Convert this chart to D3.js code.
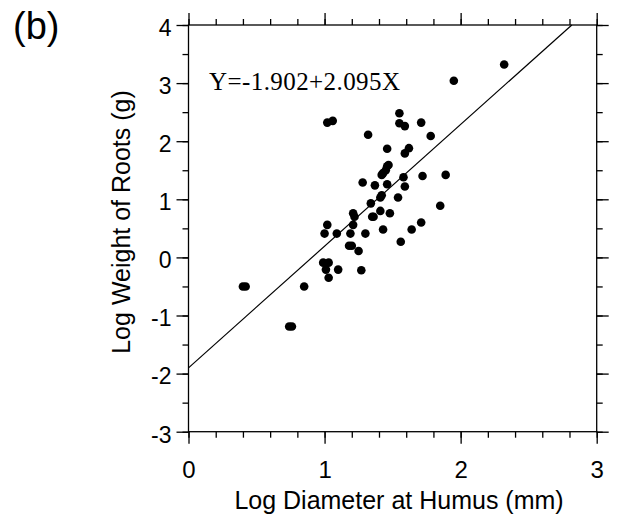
<!DOCTYPE html>
<head>
  <meta charset="utf-8">
  <title>Log weight of roots</title>
  <script src="https://cdn.jsdelivr.net/npm/d3@7"></script>
  <style>
    body { margin: 0; background: #fff; }
    text { font-family: "Liberation Sans", Arial, sans-serif; fill: #000; }
  </style>
</head>
<body>
<div id="container"></div>

<script>
// Points (log diamètre, log poids)
const logDiameter = [0.40, 0.42, 0.74, 0.76, 0.85, 1.02, 1.06, 1.02, 1.00, 1.09,
  0.99, 1.03, 1.01, 1.03, 1.10, 1.18, 1.20, 1.19, 1.21, 1.21, 1.22, 1.25, 1.27,
  1.30, 1.28, 1.32, 1.34, 1.35, 1.36, 1.37, 1.41, 1.41, 1.42, 1.42, 1.43, 1.45,
  1.46, 1.47, 1.46, 1.46, 1.43, 1.48, 1.54, 1.55, 1.55, 1.59, 1.59, 1.62, 1.58,
  1.59, 1.56, 1.64, 1.71, 1.71, 1.72, 1.78, 1.85, 1.89, 1.95, 2.32];
const logWeight = [-0.50, -0.50, -1.19, -1.19, -0.50, 2.32, 2.35, 0.56, 0.41, 0.41,
  -0.09, -0.09, -0.21, -0.35, -0.21, 0.20, 0.20, 0.41, 0.56, 0.76, 0.70, 0.11, -0.22,
  0.41, 1.29, 2.11, 0.93, 0.70, 0.70, 1.24, 0.80, 1.03, 1.07, 1.42, 1.45, 1.50,
  1.57, 1.59, 1.87, 1.26, 0.48, 0.76, 1.03, 2.48, 2.31, 2.26, 1.79, 1.88, 1.38,
  1.22, 0.27, 0.48, 0.60, 2.32, 1.40, 2.09, 0.89, 1.42, 3.04, 3.32];

// Droite de régression Y = a + bX
const intercept = -1.902;
const slope = 2.095;
const equationLabel = "Y=-1.902+2.095X";

const xMajorTicks = [0, 1, 2, 3];
const xMinorTicks = d3.range(0, 3.001, 0.2);
const yMajorTicks = [-3, -2, -1, 0, 1, 2, 3, 4];
const yMinorTicks = d3.range(-3, 4.001, 0.5);

const width = 624, height = 519;
const plotLeft = 188.5, plotRight = 596.7, plotTop = 25, plotBottom = 431.7;

const svg = d3.select("#container")
  .append("svg")
  .attr("width", width)
  .attr("height", height);

const x = d3.scaleLinear().domain([0, 3]).range([plotLeft, plotRight]);
const y = d3.scaleLinear().domain([-3, 4]).range([plotBottom, plotTop]);

// tiret simple comme sur la figure (pas le signe moins unicode)
const plainFormat = d => String(d);

// Cadre
svg.append("rect")
  .attr("x", plotLeft).attr("y", plotTop)
  .attr("width", plotRight - plotLeft).attr("height", plotBottom - plotTop)
  .attr("fill", "none").attr("stroke", "#000").attr("stroke-width", 1.3);

function styleAxis(g) {
  g.select(".domain").remove();
  g.selectAll("line").attr("stroke", "#000").attr("stroke-width", 1.3);
}

// Axes bas / haut
svg.append("g").attr("transform", `translate(0,${plotBottom})`)
  .call(d3.axisBottom(x).tickValues(xMinorTicks).tickSize(6).tickFormat(""))
  .call(styleAxis);
svg.append("g").attr("transform", `translate(0,${plotBottom})`)
  .call(d3.axisBottom(x).tickValues(xMajorTicks).tickSize(12).tickPadding(17).tickFormat(plainFormat))
  .call(styleAxis)
  .selectAll("text").style("font-size", "24px");
svg.append("g").attr("transform", `translate(0,${plotTop})`)
  .call(d3.axisTop(x).tickValues(xMinorTicks).tickSize(6).tickFormat(""))
  .call(styleAxis);
svg.append("g").attr("transform", `translate(0,${plotTop})`)
  .call(d3.axisTop(x).tickValues(xMajorTicks).tickSize(12).tickFormat(""))
  .call(styleAxis);

// Axes gauche / droite
svg.append("g").attr("transform", `translate(${plotLeft},0)`)
  .call(d3.axisLeft(y).tickValues(yMinorTicks).tickSize(6).tickFormat(""))
  .call(styleAxis);
svg.append("g").attr("transform", `translate(${plotLeft},0)`)
  .call(d3.axisLeft(y).tickValues(yMajorTicks).tickSize(12).tickPadding(5).tickFormat(plainFormat))
  .call(styleAxis)
  .selectAll("text").style("font-size", "23px").attr("dy", "0.45em");
svg.append("g").attr("transform", `translate(${plotRight},0)`)
  .call(d3.axisRight(y).tickValues(yMinorTicks).tickSize(6).tickFormat(""))
  .call(styleAxis);
svg.append("g").attr("transform", `translate(${plotRight},0)`)
  .call(d3.axisRight(y).tickValues(yMajorTicks).tickSize(12).tickFormat(""))
  .call(styleAxis);

// Les axes d3 imposent sans-serif : on rétablit la police
svg.selectAll("g").attr("font-family", null);

// Droite de régression, coupée au bord haut
const xEnd = Math.min(3, (4 - intercept) / slope);
svg.append("line")
  .attr("x1", x(0)).attr("y1", y(intercept))
  .attr("x2", x(xEnd)).attr("y2", y(intercept + slope * xEnd))
  .attr("stroke", "#000").attr("stroke-width", 1.2);

// Points
svg.selectAll(".pt")
  .data(d3.zip(logDiameter, logWeight))
  .enter().append("circle")
  .attr("class", "pt")
  .attr("cx", d => x(d[0]))
  .attr("cy", d => y(d[1]))
  .attr("r", 4.3)
  .attr("fill", "#000");

// Equation
svg.append("text")
  .attr("x", 209).attr("y", 90)
  .attr("textLength", 191)
  .style("font-family", "'Liberation Serif', 'Times New Roman', serif")
  .style("font-size", "25px")
  .text(equationLabel);

// Titres
svg.append("text")
  .attr("x", 399).attr("y", 509)
  .attr("text-anchor", "middle")
  .style("font-size", "25px")
  .text("Log Diameter at Humus (mm)");

svg.append("text")
  .attr("transform", "translate(130,222) rotate(-90)")
  .attr("text-anchor", "middle")
  .style("font-size", "25px")
  .text("Log Weight of Roots (g)");

svg.append("text")
  .attr("x", 13).attr("y", 39)
  .style("font-size", "38px")
  .text("(b)");
</script>
</body>
